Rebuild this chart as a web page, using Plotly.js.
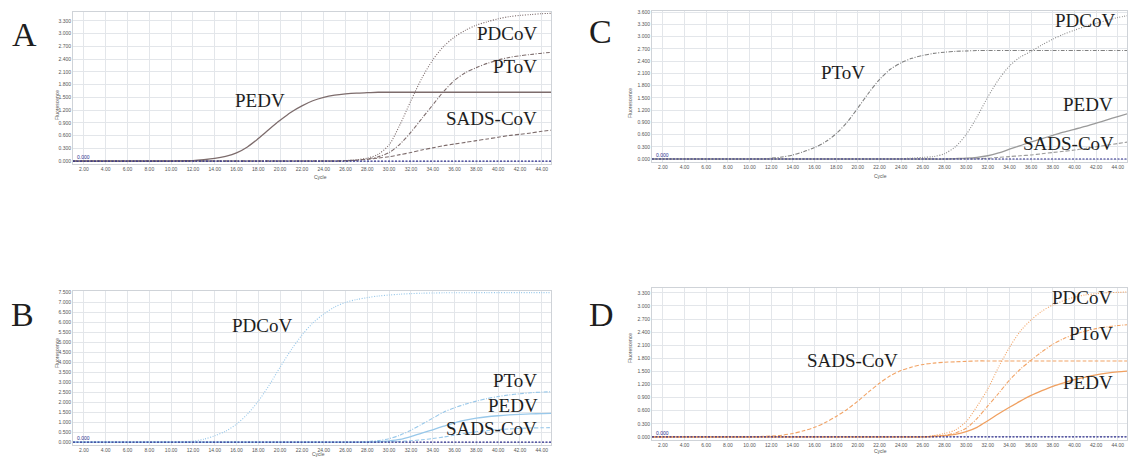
<!DOCTYPE html>
<html>
<head>
<meta charset="utf-8">
<script src="https://cdn.plot.ly/plotly-3.0.1.min.js"></script>
<style>html,body{margin:0;padding:0;background:#fff;}#chart{width:1128px;height:461px;}</style>
</head>
<body>
<div id="chart"></div>
<script>
// ---------- DATA ----------
const cycles = [1,2,3,4,5,6,7,8,9,10,11,12,13,14,15,16,17,18,19,20,21,22,23,24,25,26,27,28,29,30,31,32,33,34,35,36,37,38,39,40,41,42,43,44,45];
const xTicks = [2,4,6,8,10,12,14,16,18,20,22,24,26,28,30,32,34,36,38,40,42,44];
const xTickLabels = ["2.00","4.00","6.00","8.00","10.00","12.00","14.00","16.00","18.00","20.00","22.00","24.00","26.00","28.00","30.00","32.00","34.00","36.00","38.00","40.00","42.00","44.00"];
const yTicksA = [0,0.3,0.6,0.9,1.2,1.5,1.8,2.1,2.4,2.7,3.0,3.3];
const yTicksB = [0,0.5,1.0,1.5,2.0,2.5,3.0,3.5,4.0,4.5,5.0,5.5,6.0,6.5,7.0,7.5];
const yTicksC = [0,0.3,0.6,0.9,1.2,1.5,1.8,2.1,2.4,2.7,3.0,3.3,3.6];
const yTicksD = [0,0.3,0.6,0.9,1.2,1.5,1.8,2.1,2.4,2.7,3.0,3.3];
const threshold = 0.0;

// Panel A
const A_PEDV  = [0,0,0,0,0,0,0,0,0,0, 0.005,0.01,0.03,0.06,0.11,0.19,0.33,0.53,0.75,0.96, 1.15,1.3,1.42,1.5,1.55,1.58,1.6,1.61,1.62,1.62, 1.62,1.62,1.62,1.62,1.62,1.62,1.62,1.62,1.62,1.62, 1.62,1.62,1.62,1.62,1.62];
const A_PDCoV = [0,0,0,0,0,0,0,0,0,0, 0,0,0,0,0,0,0,0,0,0, 0,0,0,0,0,0.01,0.03,0.07,0.16,0.38, 0.86,1.42,1.95,2.38,2.7,2.92,3.08,3.2,3.28,3.35, 3.4,3.43,3.45,3.47,3.48];
const A_PToV  = [0,0,0,0,0,0,0,0,0,0, 0,0,0,0,0,0,0,0,0,0, 0,0,0,0,0,0,0.02,0.05,0.1,0.2, 0.4,0.68,1.0,1.32,1.64,1.9,2.08,2.2,2.3,2.38, 2.44,2.48,2.51,2.54,2.56];
const A_SADS  = [0,0,0,0,0,0,0,0,0,0, 0,0,0,0,0,0,0,0,0,0, 0,0,0,0,0,0.01,0.02,0.04,0.07,0.1, 0.15,0.2,0.26,0.31,0.36,0.4,0.44,0.48,0.52,0.56, 0.6,0.63,0.66,0.7,0.73];

// Panel B
const B_PDCoV = [0,0,0,0,0,0,0,0,0,0, 0.02,0.05,0.15,0.32,0.55,0.9,1.4,2.05,2.85,3.75, 4.6,5.35,5.95,6.4,6.75,6.98,7.12,7.22,7.3,7.35, 7.39,7.42,7.44,7.45,7.46,7.46,7.46,7.47,7.47,7.47, 7.47,7.47,7.47,7.47,7.47];
const B_PToV  = [0,0,0,0,0,0,0,0,0,0, 0,0,0,0,0,0,0,0,0,0, 0,0,0,0,0,0,0,0.03,0.08,0.18, 0.35,0.6,0.9,1.2,1.5,1.72,1.9,2.05,2.18,2.28, 2.36,2.42,2.47,2.5,2.52];
const B_PEDV  = [0,0,0,0,0,0,0,0,0,0, 0,0,0,0,0,0,0,0,0,0, 0,0,0,0,0,0,0,0,0.03,0.07, 0.14,0.28,0.45,0.62,0.8,0.97,1.1,1.2,1.27,1.32, 1.36,1.39,1.41,1.43,1.44];
const B_SADS  = [0,0,0,0,0,0,0,0,0,0, 0,0,0,0,0,0,0,0,0,0, 0,0,0,0,0,0,0,0,0,0.02, 0.04,0.07,0.12,0.18,0.26,0.35,0.44,0.52,0.58,0.63, 0.66,0.69,0.71,0.72,0.73];

// Panel C
const C_PToV  = [0,0,0,0,0,0,0,0,0,0, 0,0.02,0.05,0.1,0.18,0.28,0.42,0.62,0.9,1.25, 1.62,1.95,2.2,2.36,2.47,2.54,2.59,2.62,2.64,2.65, 2.66,2.66,2.66,2.66,2.66,2.66,2.66,2.66,2.66,2.66, 2.66,2.66,2.66,2.66,2.66];
const C_PDCoV = [0,0,0,0,0,0,0,0,0,0, 0,0,0,0,0,0,0,0,0,0, 0,0,0,0.01,0.02,0.04,0.06,0.13,0.3,0.6, 1.03,1.52,1.95,2.28,2.5,2.64,2.8,2.94,3.06,3.16, 3.25,3.33,3.4,3.47,3.52];
const C_PEDV  = [0,0,0,0,0,0,0,0,0,0, 0,0,0,0,0,0,0,0,0,0, 0,0,0,0,0,0,0,0,0.01,0.02, 0.04,0.08,0.15,0.24,0.33,0.42,0.5,0.58,0.66,0.73, 0.8,0.88,0.96,1.04,1.12];
const C_SADS  = [0,0,0,0,0,0,0,0,0,0, 0,0,0,0,0,0,0,0,0,0, 0,0,0,0,0,0,0,0,0,0, 0.01,0.02,0.04,0.06,0.08,0.1,0.13,0.16,0.19,0.22, 0.26,0.3,0.34,0.38,0.42];

// Panel D
const D_SADS  = [0,0,0,0,0,0,0,0,0,0, 0.01,0.02,0.04,0.08,0.14,0.22,0.33,0.47,0.63,0.82, 1.03,1.23,1.4,1.52,1.6,1.66,1.69,1.71,1.72,1.73, 1.74,1.74,1.74,1.74,1.74,1.74,1.74,1.74,1.74,1.74, 1.74,1.74,1.74,1.74,1.74];
const D_PDCoV = [0,0,0,0,0,0,0,0,0,0, 0,0,0,0,0,0,0,0,0,0, 0,0,0,0,0,0,0.03,0.08,0.16,0.35, 0.7,1.1,1.6,2.05,2.42,2.68,2.88,3.02,3.12,3.2, 3.25,3.28,3.3,3.31,3.32];
const D_PToV  = [0,0,0,0,0,0,0,0,0,0, 0,0,0,0,0,0,0,0,0,0, 0,0,0,0,0,0,0.02,0.04,0.09,0.2, 0.42,0.71,1.0,1.3,1.55,1.76,1.95,2.12,2.25,2.35, 2.42,2.48,2.52,2.55,2.57];
const D_PEDV  = [0,0,0,0,0,0,0,0,0,0, 0,0,0,0,0,0,0,0,0,0, 0,0,0,0,0,0,0.01,0.03,0.06,0.12, 0.22,0.37,0.53,0.68,0.82,0.95,1.06,1.16,1.24,1.31, 1.37,1.42,1.46,1.49,1.51];

// ---------- LAYOUT HELPERS ----------
const W = 1128, H = 461;
const px = v => v / W;
const py = v => 1 - v / H;

const dashOf = {PEDV:'solid', PDCoV:'1px,1.5px', PToV:'4px,1.5px,1px,1.5px', SADS:'4px,2px'};

function tr(y, name, ax, color, width) {
  return {
    x: cycles, y: y, type: 'scatter', mode: 'lines', name: name,
    xaxis: 'x' + ax, yaxis: 'y' + ax, hoverinfo: 'skip',
    line: {color: color, dash: dashOf[name], width: width || 1.1, shape: 'spline', smoothing: 0.8}
  };
}

const traces = [
  tr(A_PEDV,'PEDV','', '#7d6c6c',1.3), tr(A_PDCoV,'PDCoV','', '#7d6c6c'), tr(A_PToV,'PToV','', '#7d6c6c'), tr(A_SADS,'SADS','', '#7d6c6c'),
  tr(B_PDCoV,'PDCoV','2','#98c8ea'), tr(B_PToV,'PToV','2','#98c8ea'), tr(B_PEDV,'PEDV','2','#98c8ea',1.3), tr(B_SADS,'SADS','2','#98c8ea'),
  tr(C_PToV,'PToV','3','#7f7f7f'), tr(C_PDCoV,'PDCoV','3','#8a8a8a'), tr(C_PEDV,'PEDV','3','#9a9a9a',1.3), tr(C_SADS,'SADS','3','#9a9a9a'),
  tr(D_SADS,'SADS','4','#f2a466'), tr(D_PDCoV,'PDCoV','4','#f2a466'), tr(D_PToV,'PToV','4','#f2a466'), tr(D_PEDV,'PEDV','4','#f0a060',1.3)
];

const tickFont = {family: 'Liberation Sans, Arial, sans-serif', size: 5, color: '#555'};
function xax(domain, anchor) {
  return {domain: domain, anchor: anchor, range: [1.0, 44.85], tickvals: xTicks, ticktext: xTickLabels,
    showgrid: true, gridcolor: '#e3e6ea', gridwidth: 1, zeroline: false, showline: true, linecolor: '#cfd3d8', mirror: true,
    ticks: '', tickfont: tickFont, fixedrange: true};
}
function yax(domain, anchor, range, ticks) {
  return {domain: domain, anchor: anchor, range: range, tickvals: ticks, ticktext: ticks.map(v => v.toFixed(3)),
    showgrid: true, gridcolor: '#e3e6ea', gridwidth: 1, zeroline: false, showline: true, linecolor: '#cfd3d8', mirror: true,
    ticks: '', tickfont: tickFont, fixedrange: true};
}

const domA_x = [px(73), px(551)], domC_x = [px(652), px(1127)];
const layout = {
  width: W, height: H, margin: {l: 0, r: 0, t: 0, b: 0},
  paper_bgcolor: '#fff', plot_bgcolor: '#fff', showlegend: false,
  xaxis:  xax(domA_x, 'y'),
  yaxis:  yax([py(164), py(12)], 'x', [-0.07, 3.51], yTicksA),
  xaxis2: xax(domA_x, 'y2'),
  yaxis2: yax([py(445), py(291)], 'x2', [-0.14, 7.55], yTicksB),
  xaxis3: xax(domC_x, 'y3'),
  yaxis3: yax([py(162), py(11)], 'x3', [-0.073, 3.63], yTicksC),
  xaxis4: xax(domC_x, 'y4'),
  yaxis4: yax([py(440), py(288)], 'x4', [-0.07, 3.41], yTicksD),
  shapes: ['', '2', '3', '4'].map(a => ({type: 'line', xref: 'x' + a + ' domain', yref: 'y' + a, x0: 0, x1: 1, y0: threshold, y1: threshold,
    line: {color: '#2c2c8c', width: 1.2, dash: '2px,1.5px'}})),
  annotations: []
};

const serif = 'Liberation Serif, Times New Roman, serif';
function lab(text, x, y, size, anchor) {
  layout.annotations.push({text: text, xref: 'paper', yref: 'paper', x: px(x), y: py(y), xanchor: anchor || 'center', yanchor: 'middle',
    showarrow: false, font: {family: serif, size: size, color: '#1e1e1e'}});
}
// panel letters
lab('A', 24, 34, 34); lab('B', 22, 314, 34); lab('C', 600, 32, 34); lab('D', 601, 314, 34);
// curve labels
const fs = 19;
lab('PEDV', 260, 100, fs); lab('PDCoV', 539, 33, fs, 'right'); lab('PToV', 539, 67, fs, 'right'); lab('SADS-CoV', 539, 118, fs, 'right');
lab('PDCoV', 262, 325, fs); lab('PToV', 539, 380, fs, 'right'); lab('PEDV', 540, 405, fs, 'right'); lab('SADS-CoV', 539, 428, fs, 'right');
lab('PToV', 843, 72, fs); lab('PDCoV', 1117, 20, fs, 'right'); lab('PEDV', 1115, 105, fs, 'right'); lab('SADS-CoV', 1116, 143, fs, 'right');
lab('SADS-CoV', 852, 360, fs); lab('PDCoV', 1114, 297, fs, 'right'); lab('PToV', 1115, 333, fs, 'right'); lab('PEDV', 1115, 382, fs, 'right');

// small axis titles
const smallFont = {family: 'Liberation Sans, Arial, sans-serif', size: 5, color: '#555'};
[[312,177],[310,458.5],[889,176],[889,455.5]].forEach(p => layout.annotations.push({text: 'Cycle', xref: 'paper', yref: 'paper', x: px(p[0]), y: py(p[1]),
  showarrow: false, font: smallFont}));
[[52,88],[52,370],[630,86],[630,365]].forEach(p => layout.annotations.push({text: 'Fluorescence', xref: 'paper', yref: 'paper', x: px(p[0]), y: py(p[1]),
  showarrow: false, textangle: -90, font: smallFont}));
// threshold labels
['', '2', '3', '4'].forEach(a => layout.annotations.push({text: threshold.toFixed(3), xref: 'x' + a + ' domain', yref: 'y' + a, x: 0.004, y: threshold,
  xanchor: 'left', yanchor: 'bottom', yshift: -1, showarrow: false, font: {family: 'Liberation Sans, Arial, sans-serif', size: 5, color: '#2c2c8c'}}));

Plotly.newPlot('chart', traces, layout, {staticPlot: true, displayModeBar: false});
</script>
</body>
</html>
